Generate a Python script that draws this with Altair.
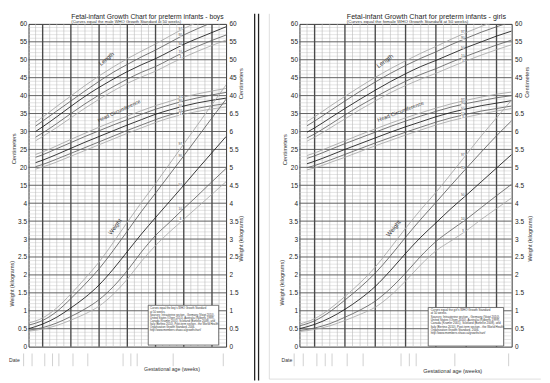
import json
import altair as alt
import pandas as pd
import numpy as np

FONT = "Liberation Sans"

# ---------------- data ----------------
percentiles = ["3", "10", "50", "90", "97"]
weeks_size = [23, 24, 26, 28, 30, 32, 34, 36, 38, 40, 42, 44, 46, 48, 50]
weeks_weight = [22, 24, 26, 28, 30, 32, 34, 36, 38, 40, 42, 44, 46, 48, 50]

# boys length (cm)
boys_length_3 = [27.4, 28.6, 31.1, 33.8, 36.5, 39.0, 41.3, 43.4, 45.2, 46.8, 48.8, 50.7, 52.4, 54.0, 55.5]
boys_length_10 = [28.4, 29.6, 32.2, 35.0, 37.7, 40.2, 42.5, 44.6, 46.5, 48.1, 50.1, 52.1, 53.8, 55.4, 56.9]
boys_length_50 = [30.0, 31.3, 34.1, 37.0, 39.8, 42.3, 44.6, 46.7, 48.6, 50.3, 52.3, 54.3, 56.0, 57.6, 59.2]
boys_length_90 = [31.5, 32.9, 35.7, 38.5, 41.3, 44.0, 46.5, 48.7, 50.8, 52.7, 54.8, 56.9, 58.7, 60.4, 62.0]
boys_length_97 = [32.6, 34.0, 37.0, 39.9, 42.8, 45.5, 48.0, 50.3, 52.4, 54.4, 56.6, 58.7, 60.5, 62.2, 63.8]
# boys head circumference (cm)
boys_head_3 = [19.5, 20.1, 21.5, 23.1, 24.7, 26.3, 27.9, 29.5, 31.0, 32.5, 33.8, 34.8, 35.6, 36.3, 36.8]
boys_head_10 = [20.2, 20.8, 22.3, 23.9, 25.5, 27.1, 28.7, 30.3, 31.8, 33.3, 34.6, 35.6, 36.5, 37.2, 37.8]
boys_head_50 = [21.3, 22.0, 23.6, 25.3, 27.0, 28.6, 30.2, 31.8, 33.3, 34.8, 36.0, 37.1, 38.0, 38.7, 39.3]
boys_head_90 = [22.8, 23.5, 25.2, 26.9, 28.6, 30.2, 31.8, 33.3, 34.8, 36.2, 37.4, 38.5, 39.4, 40.2, 40.9]
boys_head_97 = [23.6, 24.3, 26.0, 27.8, 29.5, 31.2, 32.8, 34.3, 35.8, 37.2, 38.4, 39.6, 40.5, 41.3, 42.0]
# boys weight (kg)
boys_weight_3 = [0.43, 0.49, 0.59, 0.74, 0.91, 1.13, 1.46, 1.88, 2.38, 2.82, 3.20, 3.55, 3.90, 4.25, 4.60]
boys_weight_10 = [0.46, 0.53, 0.66, 0.84, 1.05, 1.31, 1.67, 2.12, 2.64, 3.10, 3.47, 3.85, 4.22, 4.60, 4.97]
boys_weight_50 = [0.50, 0.63, 0.82, 1.08, 1.37, 1.72, 2.16, 2.65, 3.14, 3.60, 4.05, 4.50, 4.96, 5.41, 5.86]
boys_weight_90 = [0.60, 0.73, 0.98, 1.34, 1.74, 2.17, 2.68, 3.22, 3.77, 4.28, 4.80, 5.32, 5.85, 6.38, 6.90]
boys_weight_97 = [0.66, 0.80, 1.08, 1.47, 1.90, 2.36, 2.90, 3.47, 4.02, 4.55, 5.10, 5.65, 6.20, 6.75, 7.30]

# girls length (cm)
girls_length_3 = [27.3, 28.4, 30.9, 33.5, 36.1, 38.5, 40.8, 42.8, 44.6, 46.2, 48.0, 49.7, 51.3, 52.8, 54.2]
girls_length_10 = [28.2, 29.3, 31.9, 34.6, 37.2, 39.6, 41.9, 44.0, 45.9, 47.5, 49.3, 51.0, 52.6, 54.1, 55.5]
girls_length_50 = [29.8, 31.0, 33.7, 36.4, 39.0, 41.5, 43.9, 46.1, 48.1, 49.8, 51.6, 53.4, 55.0, 56.6, 58.0]
girls_length_90 = [31.6, 32.9, 35.7, 38.5, 41.2, 43.8, 46.2, 48.4, 50.4, 52.2, 54.2, 56.0, 57.7, 59.2, 60.6]
girls_length_97 = [32.8, 34.1, 37.0, 39.8, 42.5, 45.1, 47.5, 49.7, 51.8, 53.7, 55.7, 57.6, 59.3, 60.9, 62.4]
# girls head circumference (cm)
girls_head_3 = [19.3, 19.8, 21.3, 22.8, 24.4, 26.0, 27.5, 29.0, 30.4, 31.8, 33.0, 34.0, 34.9, 35.7, 36.4]
girls_head_10 = [19.9, 20.5, 22.0, 23.6, 25.2, 26.8, 28.3, 29.8, 31.2, 32.6, 33.8, 34.8, 35.7, 36.4, 37.1]
girls_head_50 = [21.0, 21.7, 23.3, 25.0, 26.6, 28.2, 29.8, 31.3, 32.7, 34.1, 35.3, 36.3, 37.2, 37.9, 38.6]
girls_head_90 = [22.5, 23.2, 24.9, 26.6, 28.2, 29.8, 31.4, 32.9, 34.3, 35.6, 36.8, 37.8, 38.6, 39.4, 40.0]
girls_head_97 = [23.3, 24.0, 25.7, 27.4, 29.1, 30.7, 32.3, 33.8, 35.2, 36.5, 37.7, 38.7, 39.6, 40.4, 41.0]
# girls weight (kg)
girls_weight_3 = [0.42, 0.48, 0.58, 0.73, 0.90, 1.10, 1.42, 1.83, 2.28, 2.67, 2.95, 3.23, 3.55, 3.85, 4.15]
girls_weight_10 = [0.45, 0.52, 0.64, 0.82, 1.02, 1.27, 1.62, 2.05, 2.52, 2.93, 3.25, 3.55, 3.88, 4.21, 4.53]
girls_weight_50 = [0.50, 0.62, 0.80, 1.04, 1.33, 1.68, 2.12, 2.60, 3.05, 3.45, 3.85, 4.22, 4.60, 4.98, 5.36]
girls_weight_90 = [0.58, 0.72, 0.97, 1.30, 1.65, 2.05, 2.53, 3.05, 3.55, 4.02, 4.50, 4.97, 5.43, 5.88, 6.30]
girls_weight_97 = [0.63, 0.78, 1.05, 1.40, 1.78, 2.22, 2.75, 3.30, 3.82, 4.30, 4.82, 5.35, 5.88, 6.38, 6.88]

# bottom "Date" row tick marks (weeks)
date_marks = [21.3, 22.5, 24.3, 25.4, 26.3, 28.3, 30.4, 35.4, 36.5, 37.4, 42.5, 49.6]
# week at which the small percentile labels sit on the curves
label_week = 44

# axis tick labels (index = chart unit 0..18)
x_tick_values = [22, 24, 26, 28, 30, 32, 34, 36, 38, 40, 42, 44, 46, 48, 50]
left_axis_labels = ["0", "0.5", "1", "1.5", "2", "2.5", "3", "3.5", "4",
                    "15", "20", "25", "30", "35", "40", "45", "50", "55", "60"]
right_axis_labels = ["0", "0.5", "1", "1.5", "2", "2.5", "3", "3.5", "4", "4.5",
                     "5", "5.5", "6", "6.5", "40", "45", "50", "55", "60"]

box_text_boys = ("Curves equal the boy's WHO Growth Standard\nat 50 weeks.\n\n"
                 "Sources: Intrauterine section - Germany (Voigt 2010),\n"
                 "United States (Olsen 2010), Australia (Roberts 1999),\n"
                 "Canada (Kramer 2001), Scotland (Bonellie 2008), and\n"
                 "Italy (Bertino 2010). Post-term section - the World Health\n"
                 "Organization Growth Standard, 2006.\n\n"
                 "http://www.members.shaw.ca/growthchart/")
box_text_girls = box_text_boys.replace("boy's", "girl's")

# ---------------- helpers ----------------
XS = alt.Scale(domain=[22, 50], nice=False, zero=False)
YS = alt.Scale(domain=[0, 18], nice=False, zero=False)


def curve_frame(length, head, weight):
    rows = []
    for name, series, weeks, conv in (("length", length, weeks_size, "cm"),
                                       ("head", head, weeks_size, "cm"),
                                       ("weight", weight, weeks_weight, "kg")):
        for p, vals in zip(percentiles, series):
            for wk, v in zip(weeks, vals):
                # common chart unit: 5 cm or 0.5 kg per unit
                u = v / 5.0 + 6.0 if conv == "cm" else v * 2.0
                rows.append({"measure": name, "pct": p, "week": wk, "u": u, "key": name + p})
    return pd.DataFrame(rows)


def txt(s, x, y, size, angle=0, align="center", baseline="middle", color="#222",
        line_height=None):
    kw = dict(font=FONT, fontSize=size, align=align, baseline=baseline, color=color)
    if angle:
        kw["angle"] = angle
    if line_height is not None:
        kw["lineBreak"] = "\n"
        kw["lineHeight"] = line_height
    return alt.Chart(pd.DataFrame({"t": [s]})).mark_text(**kw).encode(
        text="t:N", x=alt.value(x), y=alt.value(y))


def vrule(x, y, y2, color, width):
    return alt.Chart(pd.DataFrame({"a": [0]})).mark_rule(color=color, strokeWidth=width).encode(
        x=alt.value(x), y=alt.value(y), y2=alt.value(y2))


minor_u = [round(v, 1) for v in np.arange(0.2, 18.0, 0.2) if abs(v - round(v)) > 1e-6]
major_u = list(range(1, 18))
minor_wk = [w for w in range(23, 50) if w % 4 != 0]
major_wk = [24, 28, 32, 36, 40, 44, 48]


def panel(curves, W, H, frame, title, subtitle, tsize, ssize, tpos, labels, axis_titles,
          box, box_text, box_pos, box_size, box_lh, date_label, gest, extra):
    x_none = alt.X("week:Q", scale=XS, axis=None)
    y_none = alt.Y("u:Q", scale=YS, axis=None)

    layers = []
    # invisible frame that fixes the panel bounds
    layers.append(alt.Chart(pd.DataFrame({"a": [0]})).mark_rect(opacity=0).encode(
        x=alt.value(frame[0]), x2=alt.value(frame[1]),
        y=alt.value(frame[2]), y2=alt.value(frame[3])))
    # grid
    layers.append(alt.Chart(pd.DataFrame({"u": minor_u})).mark_rule(
        color="#c8c8c8", strokeWidth=0.5).encode(y=y_none))
    layers.append(alt.Chart(pd.DataFrame({"week": minor_wk})).mark_rule(
        color="#b8b8b8", strokeWidth=0.6).encode(x=x_none))
    layers.append(alt.Chart(pd.DataFrame({"u": major_u})).mark_rule(
        color="#5e5e5e", strokeWidth=1.0).encode(
        y=alt.Y("u:Q", scale=YS, axis=alt.Axis(
            orient="right", values=list(range(19)), title=None, ticks=False, domain=False,
            grid=False, labelFlush=False, labelPadding=3, labelFontSize=6.6,
            labelFont=FONT, labelColor="#222",
            labelExpr=json.dumps(right_axis_labels) + "[datum.value]"))))
    layers.append(alt.Chart(pd.DataFrame({"week": major_wk})).mark_rule(
        color="#4a4a4a", strokeWidth=1.4).encode(x=x_none))
    # curves
    layers.append(alt.Chart(curves).mark_line(clip=True, interpolate="monotone").encode(
        x=alt.X("week:Q", scale=XS, axis=alt.Axis(
            values=x_tick_values, title=None, ticks=False, domain=False, grid=False,
            labelFlush=False, labelPadding=1, labelFontSize=6.6, labelFont=FONT,
            labelColor="#222")),
        y=alt.Y("u:Q", scale=YS, axis=alt.Axis(
            orient="left", values=list(range(19)), title=None, ticks=False, domain=False,
            grid=False, labelFlush=False, labelPadding=2, labelFontSize=6.6,
            labelFont=FONT, labelColor="#222",
            labelExpr=json.dumps(left_axis_labels) + "[datum.value]")),
        detail="key:N",
        color=alt.Color("pct:N", scale=alt.Scale(
            domain=percentiles, range=["#a8a8a8", "#626262", "#1a1a1a", "#626262", "#a8a8a8"]),
            legend=None),
        strokeWidth=alt.StrokeWidth("pct:N", scale=alt.Scale(
            domain=percentiles, range=[0.85, 0.9, 1.1, 0.9, 0.85]), legend=None)))
    # small percentile labels on the curves
    lab = curves[(curves["week"] == label_week) & (curves["u"] <= 18)]
    layers.append(alt.Chart(lab).mark_square(size=10, color="white", opacity=1, xOffset=-3.5).encode(
        x=x_none, y=y_none))
    layers.append(alt.Chart(lab).mark_text(font=FONT, fontSize=3.2, color="#444", dx=-3.5).encode(
        x=x_none, y=y_none, text="pct:N"))
    # date ticks below the axis
    layers.append(alt.Chart(pd.DataFrame({"week": date_marks})).mark_rule(
        color="#c4c4c4", strokeWidth=0.8).encode(
        x=x_none, y=alt.value(337), y2=alt.value(350)))
    # information box
    layers.append(alt.Chart(pd.DataFrame({"a": [0]})).mark_rect(
        fill="white", stroke="#555", strokeWidth=0.8).encode(
        x=alt.value(box[0]), x2=alt.value(box[1]), y=alt.value(box[2]), y2=alt.value(box[3])))
    layers.append(txt(box_text, box_pos[0], box_pos[1], box_size, align="left",
                      baseline="top", line_height=box_lh, color="#333"))
    # titles
    layers.append(txt(title, tpos[0], tpos[1], tsize, align="left", baseline="alphabetic",
                      color="#1e1e1e"))
    layers.append(txt(subtitle, tpos[0], tpos[2], ssize, align="left", baseline="alphabetic",
                      color="#333"))
    # axis titles
    for s, x, y, size in axis_titles:
        layers.append(txt(s, x, y, size, angle=270, color="#333"))
    layers.append(txt("Date", date_label[0], date_label[1], 5.2, align="left", color="#333"))
    layers.append(txt("Gestational age (weeks)", gest[0], gest[1], gest[2], color="#333"))
    # curve labels
    for s, x, y, size, ang in labels:
        layers.append(txt(s, x, y, size, angle=ang, color="#333"))
    layers.extend(extra)
    return alt.layer(*layers).resolve_axis(y="independent").properties(width=W, height=H)


boys = curve_frame([boys_length_3, boys_length_10, boys_length_50, boys_length_90, boys_length_97],
                   [boys_head_3, boys_head_10, boys_head_50, boys_head_90, boys_head_97],
                   [boys_weight_3, boys_weight_10, boys_weight_50, boys_weight_90, boys_weight_97])
girls = curve_frame([girls_length_3, girls_length_10, girls_length_50, girls_length_90, girls_length_97],
                    [girls_head_3, girls_head_10, girls_head_50, girls_head_90, girls_head_97],
                    [girls_weight_3, girls_weight_10, girls_weight_50, girls_weight_90, girls_weight_97])

H = 330
separator = [
    vrule(231.2, -10.3, 364.7, "#222", 1.3),
    vrule(235.2, -10.3, 364.7, "#222", 1.3),
]
right_frame = [
    vrule(-30.8, -10.3, 363.2, "#d6d6d6", 0.8),
    alt.Chart(pd.DataFrame({"a": [0]})).mark_rule(color="#d6d6d6", strokeWidth=0.8).encode(
        x=alt.value(-30.8), x2=alt.value(246.7), y=alt.value(363.2)),
]

left = panel(
    boys, 202, H, frame=(-20.3, 238.7, -10.3, 364.7),
    title="Fetal-infant Growth Chart for preterm infants - boys",
    subtitle="(Curves equal the male WHO Growth Standard at 50 weeks)",
    tsize=6.9, ssize=4.2, tpos=(43.7, -5.3, -0.5),
    labels=[("Length", 79.7, 35.7, 6.0, 320), ("Head Circumference", 92.4, 88.7, 5.2, 335),
            ("Weight", 88.4, 207.4, 6.0, 306)],
    axis_titles=[("Centimeters", -14.8, 127.7, 5.9), ("Weight (kilograms)", -16.6, 265.7, 5.6),
                 ("Centimeters", 217.2, 61.2, 5.9), ("Weight (kilograms)", 217.2, 219.7, 5.6)],
    box=(122.4, 194.4, 287.7, 328.4), box_text=box_text_boys, box_pos=(124.2, 290.0),
    box_size=2.8, box_lh=3.15, date_label=(-20.0, 343.7), gest=(146.7, 352.7, 5.3),
    extra=separator)

right = panel(
    girls, 217, H, frame=(-36.3, 246.7, -10.3, 364.7),
    title="Fetal-infant Growth Chart for preterm infants - girls",
    subtitle="(Curves equal the female WHO Growth Standard at 50 weeks)",
    tsize=7.3, ssize=4.5, tpos=(48.4, -5.3, -0.5),
    labels=[("Length", 87.4, 38.0, 6.3, 323), ("Head Circumference", 103.4, 89.4, 5.5, 339),
            ("Weight", 96.2, 209.2, 6.3, 309)],
    axis_titles=[("Centimeters", -14.3, 128.7, 5.9), ("Weight (kilograms)", -17.3, 264.7, 5.6),
                 ("Centimeters", 233.2, 59.7, 5.9), ("Weight (kilograms)", 235.7, 219.7, 5.6)],
    box=(131.7, 208.7, 290.0, 329.4), box_text=box_text_girls, box_pos=(134.2, 291.7),
    box_size=3.0, box_lh=3.4, date_label=(-18.3, 343.7), gest=(156.7, 354.7, 5.6),
    extra=right_frame)

chart = alt.hconcat(left, right, spacing=0).properties(
    padding=0, background="white"
).configure_view(stroke="#333", strokeWidth=1)

chart.save("out.html", embed_options={"renderer": "svg", "actions": False})
